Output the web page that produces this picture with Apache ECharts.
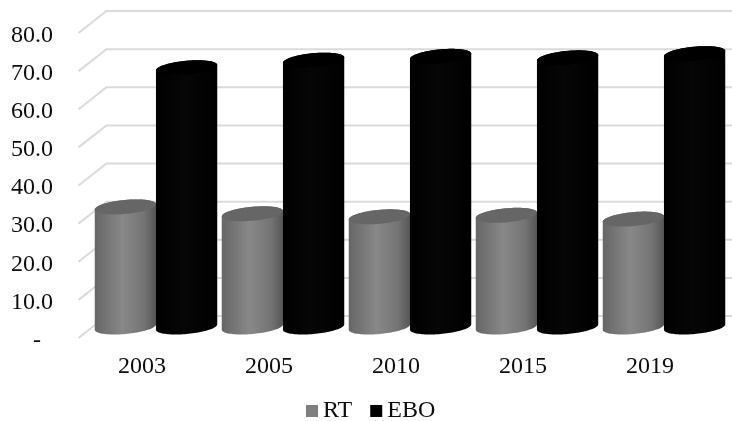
<!DOCTYPE html>
<html>
<head>
<meta charset="utf-8">
<style>html,body{margin:0;padding:0;background:#fff}#chart{width:732px;height:421px}</style>
<script src="https://cdn.jsdelivr.net/npm/echarts@6/dist/echarts.min.js"></script>
</head>
<body>
<div id="chart"></div>
<script>
// Year categories and the two series plotted for each year
const years = ['2003', '2005', '2010', '2015', '2019'];
const rtValues = [31.5, 29.7, 28.9, 29.3, 28.3];
const eboValues = [68.0, 70.0, 71.0, 70.6, 71.7];
const gridTicks = [0, 10, 20, 30, 40, 50, 60, 70, 80];

// Pseudo-3D box depth: how far the back wall sits from the front plane
const DEPTH_X = 28, DEPTH_Y = -22;
const BAR_HALF = 30.6;   // horizontal half extent of one cylinder
const ELL_A = 28.6, ELL_DX = 11, ELL_DY = -7.5;

function ellipsePoint(cx, cy, t) {
  return [cx + ELL_A * Math.cos(t) + ELL_DX * Math.sin(t), cy + ELL_DY * Math.sin(t)];
}

// Draws one cylinder standing on the mid-depth floor of the box
function cylinder(side, bodyStops, capColor) {
  return function (params, api) {
    const base = api.coord([api.value(0), 0]);
    const top = api.coord([api.value(0), api.value(1)]);
    const cx = base[0] + DEPTH_X / 2 + side * BAR_HALF;
    const by = base[1] + DEPTH_Y / 2;
    const ty = top[1] + DEPTH_Y / 2;
    const tLeft = Math.PI + Math.atan2(ELL_DX, ELL_A);
    const steps = 48;
    const body = [];
    // front arc of the base, left extreme to right extreme
    for (let i = 0; i <= steps; i++) {
      body.push(ellipsePoint(cx, by, tLeft + Math.PI * i / steps));
    }
    // back across along the rear of the top rim
    for (let i = 0; i <= steps; i++) {
      body.push(ellipsePoint(cx, ty, tLeft + Math.PI + Math.PI * i / steps));
    }
    const cap = [];
    for (let i = 0; i < steps * 2; i++) {
      cap.push(ellipsePoint(cx, ty, Math.PI * i / steps));
    }
    return {
      type: 'group',
      children: [
        {
          type: 'polygon',
          shape: { points: body },
          style: {
            fill: new echarts.graphic.LinearGradient(0, 0, 1, 0, bodyStops)
          }
        },
        { type: 'polygon', shape: { points: cap }, style: { fill: capColor } }
      ]
    };
  };
}

// Side wall diagonal plus back wall line for every tick value
function renderGridLine(params, api) {
  const sys = params.coordSys;
  const y = api.coord([0, api.value(1)])[1];
  return {
    type: 'polyline',
    shape: {
      points: [
        [sys.x, y],
        [sys.x + DEPTH_X, y + DEPTH_Y],
        [sys.x + sys.width + DEPTH_X, y + DEPTH_Y]
      ]
    },
    style: { stroke: '#dadada', lineWidth: 2, fill: null }
  };
}

const serif = '"Liberation Serif", "Times New Roman", serif';
const chart = echarts.init(document.getElementById('chart'), null, { renderer: 'canvas' });
chart.setOption({
  animation: false,
  backgroundColor: '#fff',
  grid: { left: 78.5, top: 33, width: 635, height: 305, containLabel: false },
  legend: {
    data: ['RT', 'EBO'],
    left: 301,
    top: 394,
    icon: 'rect',
    itemWidth: 12,
    itemHeight: 12,
    itemGap: 18,
    textStyle: { fontFamily: serif, fontSize: 24, color: '#0d0d0d' }
  },
  xAxis: {
    type: 'category',
    data: years,
    axisLine: { show: false },
    axisTick: { show: false },
    axisLabel: { fontFamily: serif, fontSize: 24, color: '#0d0d0d', margin: 17 }
  },
  yAxis: {
    type: 'value',
    min: 0,
    max: 80,
    interval: 10,
    axisLine: { show: false },
    axisTick: { show: false },
    splitLine: { show: false },
    axisLabel: {
      margin: 25.5,
      formatter: v => '{tick|' + (v === 0 ? '-\u00a0\u00a0' : v.toFixed(1)) + '}',
      rich: {
        tick: {
          fontFamily: serif,
          fontSize: 24,
          color: '#0d0d0d',
          padding: [5, 0, 0, 0]
        }
      }
    }
  },
  series: [
    {
      type: 'custom',
      name: 'grid',
      silent: true,
      clip: false,
      renderItem: renderGridLine,
      encode: { x: 0, y: 1 },
      data: gridTicks.map(v => [0, v])
    },
    {
      type: 'custom',
      name: 'RT',
      clip: false,
      itemStyle: { color: '#7f7f7f' },
      renderItem: cylinder(-1, [
        { offset: 0, color: '#666666' },
        { offset: 0.45, color: '#888888' },
        { offset: 0.8, color: '#747474' },
        { offset: 1, color: '#565656' }
      ], '#666666'),
      encode: { x: 0, y: 1 },
      data: rtValues.map((v, i) => [i, v])
    },
    {
      type: 'custom',
      name: 'EBO',
      clip: false,
      itemStyle: { color: '#000000' },
      renderItem: cylinder(1, [
        { offset: 0, color: '#000000' },
        { offset: 0.45, color: '#060606' },
        { offset: 1, color: '#000000' }
      ], '#000000'),
      encode: { x: 0, y: 1 },
      data: eboValues.map((v, i) => [i, v])
    }
  ]
});
</script>
</body>
</html>
